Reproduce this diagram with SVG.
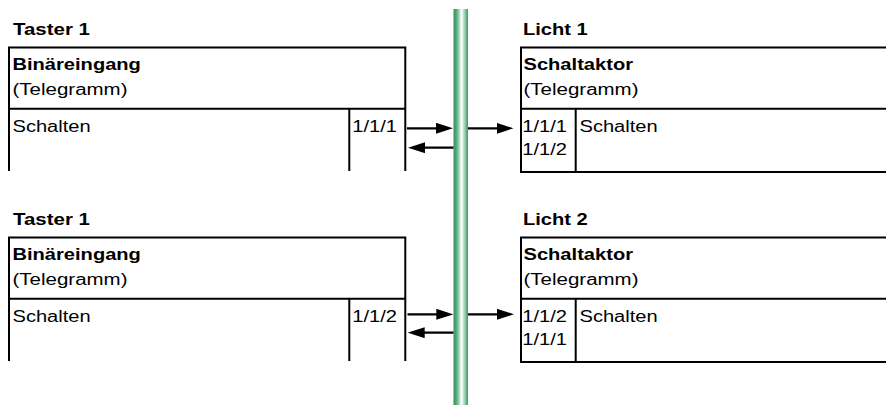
<svg xmlns="http://www.w3.org/2000/svg" width="886" height="405" viewBox="0 0 886 405">
  <defs>
    <linearGradient id="busGrad" x1="0" y1="0" x2="1" y2="0">
      <stop offset="0" stop-color="#2a925b"/>
      <stop offset="0.25" stop-color="#62b183"/>
      <stop offset="0.55" stop-color="#ffffff"/>
      <stop offset="0.8" stop-color="#93cba9"/>
      <stop offset="1" stop-color="#35985f"/>
    </linearGradient>
    <marker id="arrow" viewBox="0 0 17 11" refX="6" refY="5.5" markerWidth="17" markerHeight="11" markerUnits="userSpaceOnUse" orient="auto">
      <path d="M0,0 L17,5.5 L0,11 Z" fill="#000"/>
    </marker>
  </defs>
  <style>
    .box { fill: none; stroke: #000; stroke-width: 2; }
    .t { font-family: "Liberation Sans", Arial, sans-serif; font-size: 17.3px; fill: #000; }
    .b { font-weight: bold; }
    .conn { stroke: #000; stroke-width: 2.2; fill: none; marker-end: url(#arrow); }
  </style>
  <rect width="886" height="405" fill="#fff"/>

  <g id="bus">
    <rect x="453.5" y="9" width="14.5" height="396" fill="url(#busGrad)"/>
  </g>

  <g id="taster1-a">
    <text class="t b" x="13" y="35" textLength="77" lengthAdjust="spacingAndGlyphs">Taster 1</text>
    <path class="box" d="M9,171 V47.5 H405.3 V171 M9,108.8 H405.3 M349.3,108.8 V171"/>
    <text class="t b" x="12.5" y="69.5" textLength="128.4" lengthAdjust="spacingAndGlyphs">Binäreingang</text>
    <text class="t" x="12.5" y="95" textLength="115" lengthAdjust="spacingAndGlyphs">(Telegramm)</text>
    <text class="t" x="12.5" y="132" textLength="78.2" lengthAdjust="spacingAndGlyphs">Schalten</text>
    <text class="t" x="352.3" y="132" textLength="44.7" lengthAdjust="spacingAndGlyphs">1/1/1</text>
  </g>

  <g id="licht1">
    <text class="t b" x="523" y="35" textLength="64.8" lengthAdjust="spacingAndGlyphs">Licht 1</text>
    <path class="box" d="M887,47.5 H521 V172 H887 M521,108.8 H887 M575.7,108.8 V172"/>
    <text class="t b" x="523.5" y="69.5" textLength="109.5" lengthAdjust="spacingAndGlyphs">Schaltaktor</text>
    <text class="t" x="523.5" y="95" textLength="115" lengthAdjust="spacingAndGlyphs">(Telegramm)</text>
    <text class="t" x="522.3" y="132" textLength="44.7" lengthAdjust="spacingAndGlyphs">1/1/1</text>
    <text class="t" x="522.3" y="155" textLength="44.7" lengthAdjust="spacingAndGlyphs">1/1/2</text>
    <text class="t" x="579.5" y="132" textLength="78.2" lengthAdjust="spacingAndGlyphs">Schalten</text>
  </g>

  <g id="taster1-b">
    <text class="t b" x="13" y="225" textLength="77" lengthAdjust="spacingAndGlyphs">Taster 1</text>
    <path class="box" d="M9,361 V237.5 H405.3 V361 M9,298.8 H405.3 M349.3,298.8 V361"/>
    <text class="t b" x="12.5" y="259.5" textLength="128.4" lengthAdjust="spacingAndGlyphs">Binäreingang</text>
    <text class="t" x="12.5" y="285" textLength="115" lengthAdjust="spacingAndGlyphs">(Telegramm)</text>
    <text class="t" x="12.5" y="322" textLength="78.2" lengthAdjust="spacingAndGlyphs">Schalten</text>
    <text class="t" x="352.3" y="322" textLength="44.7" lengthAdjust="spacingAndGlyphs">1/1/2</text>
  </g>

  <g id="licht2">
    <text class="t b" x="523" y="225" textLength="64.8" lengthAdjust="spacingAndGlyphs">Licht 2</text>
    <path class="box" d="M887,237.5 H521 V362 H887 M521,298.8 H887 M575.7,298.8 V362"/>
    <text class="t b" x="523.5" y="259.5" textLength="109.5" lengthAdjust="spacingAndGlyphs">Schaltaktor</text>
    <text class="t" x="523.5" y="285" textLength="115" lengthAdjust="spacingAndGlyphs">(Telegramm)</text>
    <text class="t" x="522.3" y="322" textLength="44.7" lengthAdjust="spacingAndGlyphs">1/1/2</text>
    <text class="t" x="522.3" y="345" textLength="44.7" lengthAdjust="spacingAndGlyphs">1/1/1</text>
    <text class="t" x="579.5" y="322" textLength="78.2" lengthAdjust="spacingAndGlyphs">Schalten</text>
  </g>

  <g id="connectors">
    <line class="conn" x1="407" y1="128.3" x2="442" y2="128.3"/>
    <line class="conn" x1="453.5" y1="147.7" x2="419" y2="147.7"/>
    <line class="conn" x1="468" y1="128.3" x2="502.5" y2="128.3"/>
    <line class="conn" x1="407.5" y1="314.3" x2="442.3" y2="314.3"/>
    <line class="conn" x1="453.5" y1="332.7" x2="418.7" y2="332.7"/>
    <line class="conn" x1="468" y1="314.3" x2="503" y2="314.3"/>
  </g>
</svg>
